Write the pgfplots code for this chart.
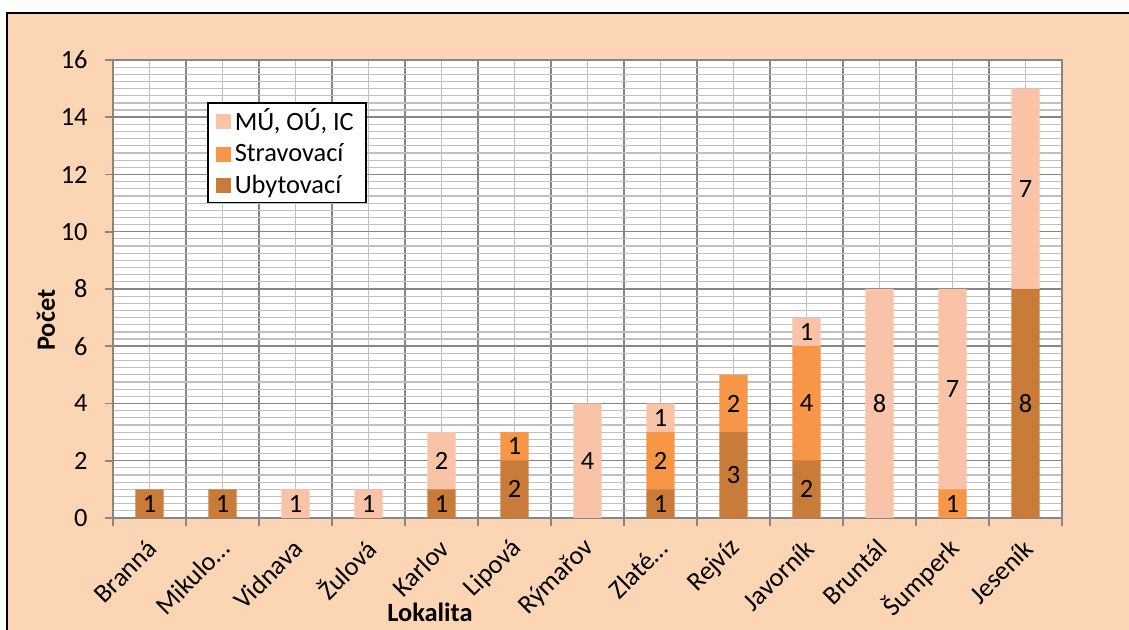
\documentclass[border=0pt]{standalone}
\usepackage{fontspec}
\setmainfont{Carlito}
\usepackage{pgfplots}
\pgfplotsset{compat=1.18}
\definecolor{bgpeach}{RGB}{252,213,181}
\definecolor{cpink}{RGB}{249,195,167}
\definecolor{corange}{RGB}{247,150,70}
\definecolor{cbrown}{RGB}{201,124,58}
\definecolor{gmajor}{RGB}{134,134,134}
\definecolor{gminor}{RGB}{192,192,192}
\newcommand{\fs}{\fontsize{13.2}{15.5}\selectfont}
\begin{document}
\begin{tikzpicture}
\useasboundingbox (0,0) rectangle (564.5pt,315pt);
\fill[white] (0,0) rectangle (564.5pt,315pt);
\fill[bgpeach] (3.5pt,0) rectangle (564.5pt,308.5pt);
\draw[black, line width=1pt] (3.5pt,0) -- (3.5pt,308.5pt) -- (564.5pt,308.5pt);
\begin{axis}[
  at={(56.5pt,56pt)}, anchor=south west,
  scale only axis, width=474.5pt, height=229pt,
  ybar stacked, bar width=0.39,
  xmin=-0.5, xmax=12.5, ymin=0, ymax=16,
  axis background/.style={fill=white},
  xtick={-0.5,0.5,...,12.5}, xticklabels={},
  minor x tick num=1,
  ytick={0,2,...,16},
  minor y tick num=7,
  grid=both,
  major grid style={gmajor, line width=0.75pt},
  minor grid style={gminor, line width=0.6pt},
  axis line style={gmajor, line width=0.8pt},
  tick style={gmajor, line width=0.8pt},
  tick align=outside, tick pos=left,
  major tick length=4pt, minor tick length=0pt,
  extra x ticks={0,1,...,12},
  extra x tick labels={Branná,Mikulo…,Vidnava,Žulová,Karlov,Lipová,Rýmařov,Zlaté…,Rejvíz,Javorník,Bruntál,Šumperk,Jeseník},
  extra x tick style={grid=none, major tick length=0pt,
     xticklabel style={font=\fs, inner sep=0pt, anchor=east, yshift=-13pt, xshift=1.5pt, rotate=45}},
  yticklabel style={font=\fs, anchor=east, inner sep=0pt, xshift=-8.5pt},
  /pgf/number format/assume math mode=true,
  ylabel={\bfseries Počet},
  ylabel style={font=\fs, at={(axis description cs:-0.0706,0.432)}, anchor=center},
  xlabel={\bfseries Lokalita},
  xlabel style={font=\fs, at={(axis description cs:0.334,-0.205)}, anchor=center},
  legend style={at={(axis description cs:0.099,0.908)}, anchor=north west,
     draw=black, line width=0.8pt, fill=white, font=\fs,
     inner xsep=4pt, inner ysep=1pt, row sep=1pt},
  legend cell align=left, reverse legend,
  legend image code/.code={\fill[#1, draw=none] (0pt,-3.75pt) rectangle (7.5pt,3.75pt);},
]
\addplot[fill=cbrown, draw=none] coordinates {(0,1) (1,1) (2,0) (3,0) (4,1) (5,2) (6,0) (7,1) (8,3) (9,2) (10,0) (11,0) (12,8)};
\addlegendentry{Ubytovací}
\addplot[fill=corange, draw=none] coordinates {(0,0) (1,0) (2,0) (3,0) (4,0) (5,1) (6,0) (7,2) (8,2) (9,4) (10,0) (11,1) (12,0)};
\addlegendentry{Stravovací}
\addplot[fill=cpink, draw=none] coordinates {(0,0) (1,0) (2,1) (3,1) (4,2) (5,0) (6,4) (7,1) (8,0) (9,1) (10,8) (11,7) (12,7)};
\addlegendentry{MÚ, OÚ, IC}
\end{axis}
\begin{axis}[
  at={(56.5pt,56pt)}, anchor=south west,
  scale only axis, width=474.5pt, height=229pt,
  xmin=-0.5, xmax=12.5, ymin=0, ymax=16, hide axis,
  nodes near coords, point meta=explicit symbolic,
  every node near coord/.append style={font=\fs, text=black, anchor=center, inner sep=0pt},
]
\addplot[draw=none] coordinates {
 (0,0.5) [1] (1,0.5) [1] (4,0.5) [1] (5,1) [2] (7,0.5) [1] (8,1.5) [3] (9,1) [2] (12,4) [8]
 (5,2.5) [1] (7,2) [2] (8,4) [2] (9,4) [4] (11,0.5) [1]
 (2,0.5) [1] (3,0.5) [1] (4,2) [2] (6,2) [4] (7,3.5) [1] (9,6.5) [1] (10,4) [8] (11,4.5) [7] (12,11.5) [7]
};
\end{axis}
\end{tikzpicture}
\end{document}
